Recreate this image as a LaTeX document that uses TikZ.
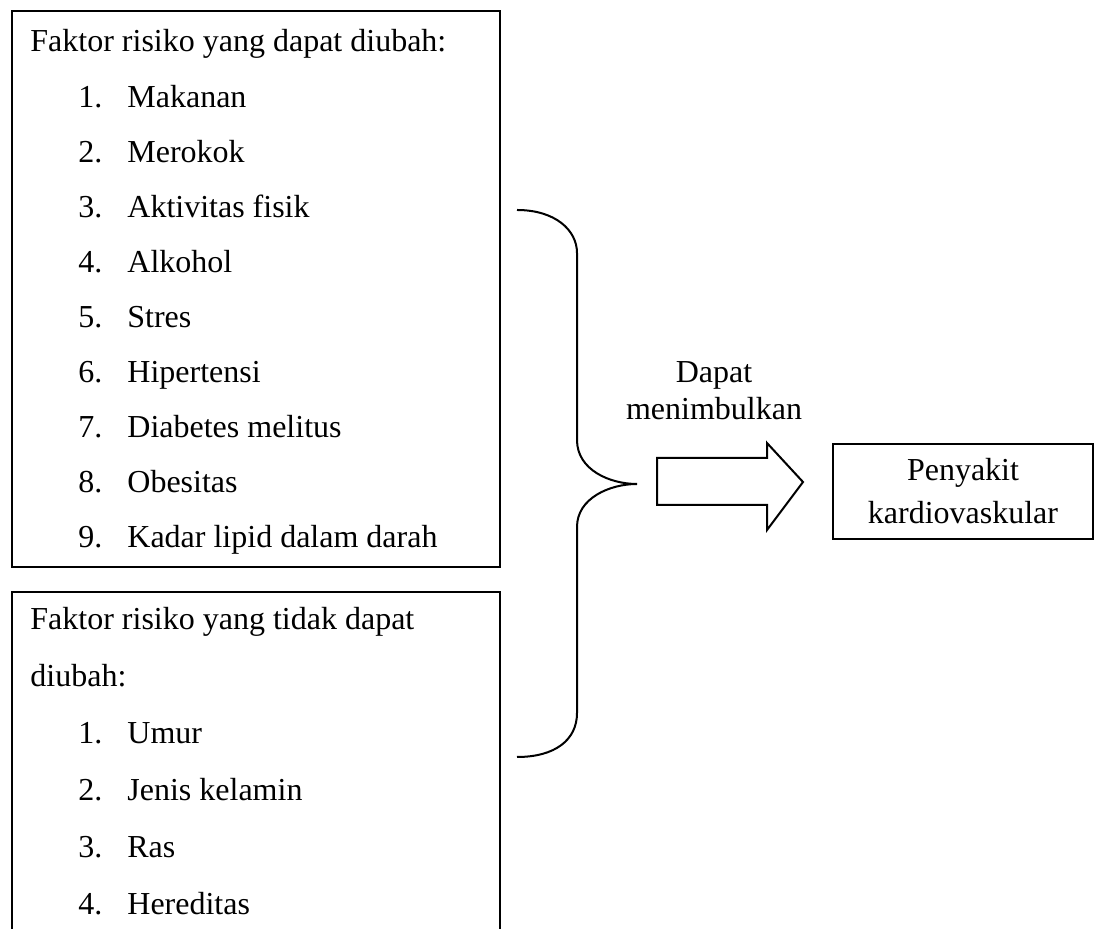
\documentclass[tikz,border=0pt]{standalone}
\usepackage{fontspec}
\setmainfont{Liberation Serif}
\usetikzlibrary{positioning}

\begin{document}
\begin{tikzpicture}[
  x=0.5pt,y=-0.5pt,
  frame/.style={draw=black,line width=1pt,inner sep=0pt},
  txt/.style={font=\fontsize{16}{18.5}\selectfont,inner sep=0pt},
  item/.style={txt,anchor=base west},
  brace/.style={draw=black,line width=1pt}
]
\useasboundingbox (0,0) rectangle (1099,929);
\clip (0,0) rectangle (1099,929);
% boxes
\node[frame,minimum width=244pt,minimum height=278pt,anchor=north west] (modbox) at (11,10) {};
\node[frame,minimum width=244pt,minimum height=190pt,anchor=north west] (fixbox) at (11,591) {};
\node[frame,txt,font=\fontsize{16}{21.5}\selectfont,align=center,
  minimum width=130pt,minimum height=47.5pt,anchor=north west] (disease) at (832,443) {Penyakit\\kardiovaskular};
% factors that can be changed
\node[item] (modhead) at (30,52) {Faktor risiko yang dapat diubah:};
\foreach \t [count=\i] in {Makanan,Merokok,Aktivitas fisik,Alkohol,Stres,Hipertensi,
  Diabetes melitus,Obesitas,Kadar lipid dalam darah}{
  \node[item] (modnum-\i) at (78,{108+55*(\i-1)}) {\i.};
  \node[item] (mod-\i) at (127,{108+55*(\i-1)}) {\t};
}
% factors that cannot be changed
\node[item] (fixhead) at (30,630) {Faktor risiko yang tidak dapat};
\node[item] (fixhead2) at (30,687) {diubah:};
\foreach \t [count=\i] in {Umur,Jenis kelamin,Ras,Hereditas}{
  \node[item] (fixnum-\i) at (78,{744+57*(\i-1)}) {\i.};
  \node[item] (fix-\i) at (127,{744+57*(\i-1)}) {\t};
}
% brace
\draw[brace] (517,210) .. controls (555,210) and (577,230) .. (577,253)
  -- (577,440) .. controls (577,470) and (610,484) .. (637,484)
  .. controls (610,484) and (577,498) .. (577,527)
  -- (577,713) .. controls (577,740) and (555,757) .. (517,757);
% block arrow
\draw[frame] (657,458) -- (767,458) -- (767,443) -- (803,482) -- (767,530)
  -- (767,505) -- (657,505) -- cycle;
\node[txt,align=center] (cause) at (714,391) {Dapat\\menimbulkan};
\end{tikzpicture}
\end{document}
